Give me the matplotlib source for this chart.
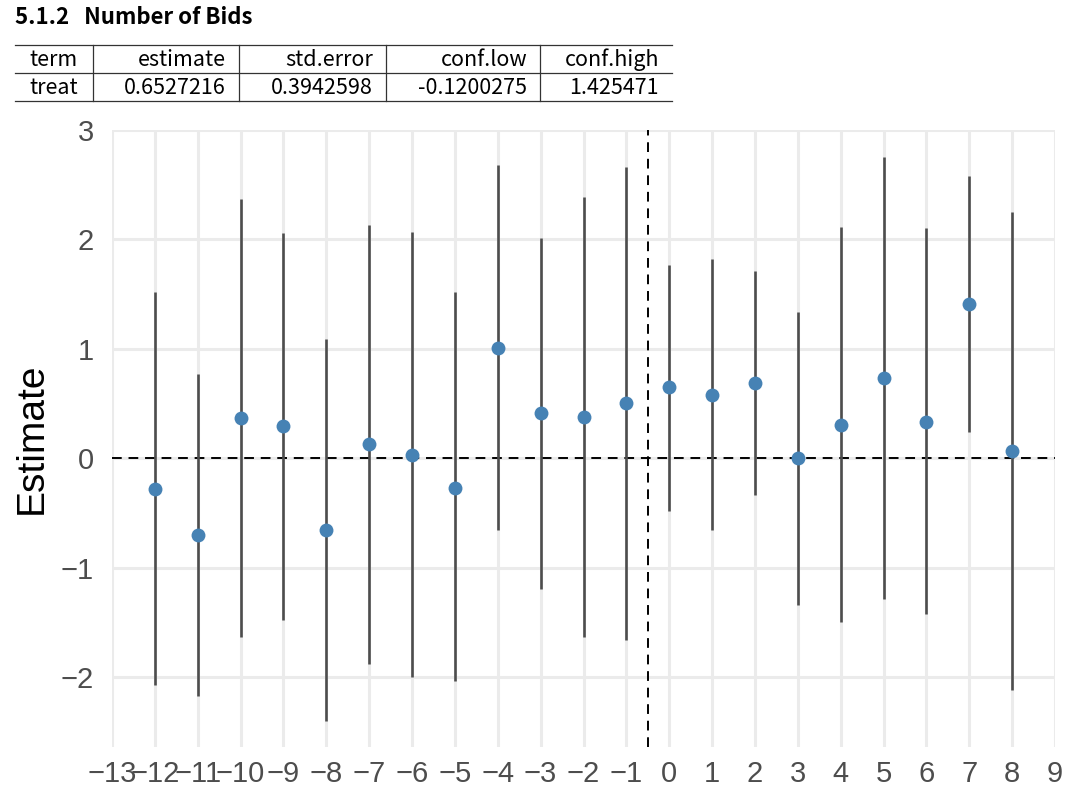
import matplotlib.pyplot as plt
import matplotlib.lines as mlines
import numpy as np

# event-study estimates
periods = [-12, -11, -10, -9, -8, -7, -6, -5, -4, -3, -2, -1, 0, 1, 2, 3, 4, 5, 6, 7, 8]
estimate = [-0.28, -0.70, 0.37, 0.29, -0.66, 0.13, 0.03, -0.27, 1.01, 0.41, 0.38, 0.50,
            0.65, 0.58, 0.69, 0.00, 0.30, 0.73, 0.33, 1.41, 0.07]
conf_low = [-2.07, -2.17, -1.63, -1.48, -2.40, -1.88, -2.00, -2.04, -0.66, -1.20, -1.63, -1.66,
            -0.48, -0.66, -0.34, -1.34, -1.50, -1.29, -1.42, 0.24, -2.12]
conf_high = [1.52, 0.77, 2.37, 2.06, 1.09, 2.13, 2.07, 1.52, 2.68, 2.01, 2.39, 2.66,
             1.77, 1.82, 1.71, 1.34, 2.11, 2.75, 2.10, 2.58, 2.25]

x_breaks = list(range(-13, 10))
y_breaks = [-2, -1, 0, 1, 2, 3]

# summary table above the plot
title = "5.1.2   Number of Bids"
table_header = ["term", "estimate", "std.error", "conf.low", "conf.high"]
table_row = ["treat", "0.6527216", "0.3942598", "-0.1200275", "1.425471"]

W, H = 1080, 798
fig = plt.figure(figsize=(W / 100, H / 100), dpi=100)

hfont = ['Noto Sans CJK KR', 'DejaVu Sans']
fig.text(15 / W, 1 - 17 / H, title, fontsize=16, fontweight='bold', family=hfont,
         va='center', ha='left', color='black')

# table lines
col_edges = [15, 93, 239, 386, 540, 672]
for yy in [45, 73, 101]:
    fig.add_artist(mlines.Line2D([15 / W, 672 / W], [1 - yy / H, 1 - yy / H],
                                 color='#333333', lw=0.9))
for xx in col_edges[1:-1]:
    fig.add_artist(mlines.Line2D([xx / W, xx / W], [1 - 45 / H, 1 - 101 / H],
                                 color='#333333', lw=0.9))
for row, yy in [(table_header, 60), (table_row, 88)]:
    for i, txt in enumerate(row):
        if i == 0:
            fig.text(29 / W, 1 - yy / H, txt, ha='left', va='center', fontsize=15.5, family=hfont)
        else:
            fig.text((col_edges[i + 1] - 13) / W, 1 - yy / H, txt, ha='right', va='center',
                     fontsize=15.5, family=hfont)

ax = fig.add_axes([112 / W, 1 - 747 / H, (1055 - 112) / W, (747 - 130) / H])
for s in ax.spines.values():
    s.set_visible(False)
ax.set_xlim(-13, 9)
ax.set_ylim(-2.64, 3.0)
ax.set_xticks(x_breaks)
ax.set_yticks(y_breaks)
ax.set_xticklabels([str(v).replace('-', '\u2212') for v in x_breaks])
ax.set_yticklabels([str(v).replace('-', '\u2212') for v in y_breaks])
ax.grid(True, color='#ebebeb', lw=2.2)
ax.set_axisbelow(True)
ax.tick_params(length=0, labelsize=21, colors='#4d4d4d')
ax.tick_params(axis='y', pad=13)
ax.tick_params(axis='x', pad=9)
for lab in ax.get_xticklabels() + ax.get_yticklabels():
    lab.set_family('Liberation Sans')

ax.axhline(0, color='black', lw=1.4, ls=(0, (5, 3.5)), zorder=2)
ax.axvline(-0.5, color='black', lw=1.4, ls=(0, (5, 3.5)), zorder=2)
ax.vlines(periods, conf_low, conf_high, color='#4d4d4d', lw=1.9, zorder=3)
ax.plot(periods, estimate, 'o', color='#4682b4', ms=10, mec='none', zorder=4)

ax.set_ylabel('Estimate', fontsize=28, family='Liberation Sans', labelpad=8)

fig.savefig('out.png', dpi=100)
